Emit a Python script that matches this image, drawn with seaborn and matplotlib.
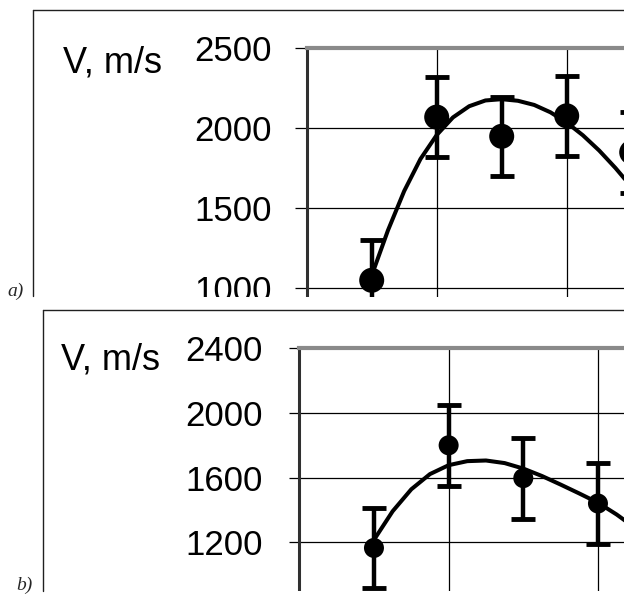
import matplotlib
matplotlib.use("Agg")
import matplotlib.pyplot as plt
import seaborn as sns
from matplotlib.lines import Line2D
from matplotlib.patches import Rectangle

# ---------------- data ----------------
ylabel_text = "V, m/s"
panel_labels = ["a)", "b)"]

a_x = [1, 2, 3, 4, 5]
a_v = [1050, 2070, 1950, 2078, 1850]
a_err = [250, 250, 245, 250, 252]
a_curve_x = [1.0, 1.25, 1.5, 1.75, 2.0, 2.25, 2.5, 2.75, 3.0, 3.25, 3.5, 3.75, 4.0, 4.25, 4.5, 4.75, 5.0]
a_curve_v = [1080, 1362, 1608, 1808, 1958, 2068, 2138, 2174, 2182, 2172, 2146, 2100, 2036, 1956, 1861, 1752, 1632]
a_yticks = [1000, 1500, 2000, 2500]

b_x = [1, 2, 3, 4]
b_v = [1165, 1800, 1597, 1440]
b_err = [250, 250, 250, 248]
b_curve_x = [1.0, 1.25, 1.5, 1.75, 2.0, 2.25, 2.5, 2.75, 3.0, 3.25, 3.5, 3.75, 4.0, 4.25, 4.5]
b_curve_v = [1215, 1392, 1528, 1622, 1677, 1702, 1706, 1690, 1656, 1610, 1557, 1502, 1445, 1372, 1288]
b_yticks = [1200, 1600, 2000, 2400]

grid_x = [2, 4, 6]

# ---------------- style ----------------
sns.set_style("white")
plt.rcParams['font.family'] = ['Liberation Sans', 'DejaVu Sans']

W, H = 624, 594
fig = plt.figure(figsize=(W / 100, H / 100), dpi=100)


def px_rect(left, top, width, height):
    return [left / W, 1 - (top + height) / H, width / W, height / H]


def fx(px):
    return px / W


def fy(py):
    return 1 - py / H


def style_axes(ax, yticks, ylim, tick_len, pad):
    ax.set_xlim(0, 6)
    ax.set_ylim(*ylim)
    ax.set_xticks(grid_x)
    ax.set_yticks(yticks)
    ax.set_yticklabels([str(t) for t in yticks])
    ax.tick_params(axis='x', length=0, labelbottom=False, bottom=False)
    ax.tick_params(axis='y', left=True, length=tick_len, width=0.9, color='black',
                   pad=pad, labelsize=25, direction='out', labelcolor='black')
    ax.grid(True, color='black', linewidth=0.9)
    ax.set_axisbelow(True)
    ax.spines['right'].set_visible(False)
    ax.spines['bottom'].set_visible(False)
    ax.spines['left'].set_color('#303030')
    ax.spines['left'].set_linewidth(2.2)
    ax.spines['top'].set_color('#8a8a8a')
    ax.spines['top'].set_linewidth(3.0)
    ax.set_xlabel("")
    ax.set_ylabel("")


line_kw = dict(color='black', linewidth=2.9, solid_joinstyle='round', solid_capstyle='round', zorder=3)

# ---- panel a ----
ax_a = fig.add_axes(px_rect(306.7, 48.3, 390, 248.7))
style_axes(ax_a, a_yticks, (2500 - 248.7 / 0.16, 2500), 8.5, 16.5)
ax_a.errorbar(a_x, a_v, yerr=a_err, fmt='none', ecolor='black', elinewidth=3.2,
              capsize=8.3, capthick=3.5, zorder=3)
sns.lineplot(x=a_curve_x, y=a_curve_v, ax=ax_a, **line_kw)
sns.scatterplot(x=a_x, y=a_v, s=18 ** 2, color='black', edgecolor='none', ax=ax_a, zorder=4)

# ---- panel b ----
ax_b = fig.add_axes(px_rect(299.3, 348.3, 448, 242.7))
style_axes(ax_b, b_yticks, (2400 - 242.7 / 0.16167, 2400), 7.2, 19.0)
ax_b.errorbar(b_x, b_v, yerr=b_err, fmt='none', ecolor='black', elinewidth=3.2,
              capsize=8.3, capthick=3.5, zorder=3)
sns.lineplot(x=b_curve_x, y=b_curve_v, ax=ax_b, **line_kw)
sns.scatterplot(x=b_x, y=b_v, s=14.4 ** 2, color='black', edgecolor='none', ax=ax_b, zorder=4)

# white bands cropping the panels
fig.add_artist(Rectangle((fx(28), fy(309)), fx(624) - fx(28), fy(296.5) - fy(309),
                         transform=fig.transFigure, facecolor='white', edgecolor='none', zorder=5))
fig.add_artist(Rectangle((fx(40), fy(594)), 1, fy(591) - fy(594),
                         transform=fig.transFigure, facecolor='white', edgecolor='none', zorder=5))

# panel frames
frame_kw = dict(transform=fig.transFigure, color='#202020', linewidth=1.0, zorder=6)
fig.add_artist(Line2D([fx(33), fx(33)], [fy(10), fy(296)], **frame_kw))
fig.add_artist(Line2D([fx(33), fx(624)], [fy(10), fy(10)], **frame_kw))
fig.add_artist(Line2D([fx(43.3), fx(43.3)], [fy(310), fy(591)], **frame_kw))
fig.add_artist(Line2D([fx(43.3), fx(624)], [fy(310), fy(310)], **frame_kw))

# labels
fig.text(fx(63), fy(72.7), ylabel_text, ha='left', va='baseline', fontsize=26, color='black')
fig.text(fx(60.7), fy(370), ylabel_text, ha='left', va='baseline', fontsize=26, color='black')
fig.text(fx(7), fy(296), panel_labels[0], ha='left', va='baseline', fontsize=14,
         family=['Liberation Serif', 'DejaVu Serif'], style='italic', zorder=7)
fig.text(fx(16.5), fy(590), panel_labels[1], ha='left', va='baseline', fontsize=14,
         family=['Liberation Serif', 'DejaVu Serif'], style='italic', zorder=7)

fig.savefig("out.png", dpi=100)
